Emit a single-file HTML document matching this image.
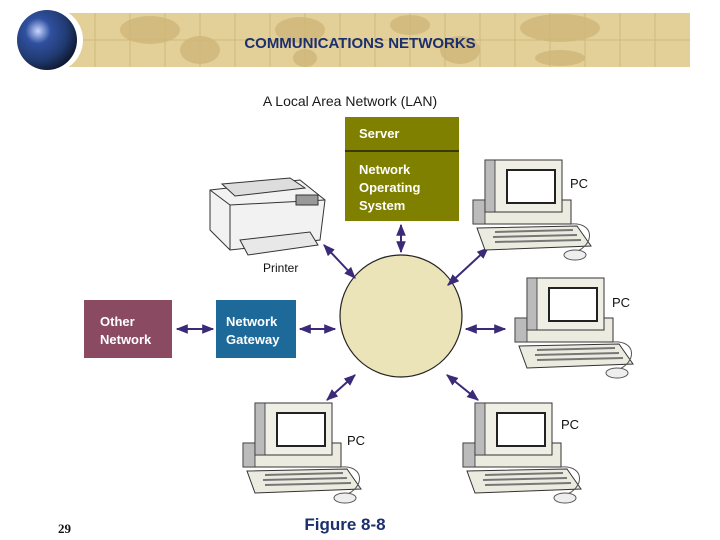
<!DOCTYPE html>
<html><head><meta charset="utf-8"><style>
body{margin:0;width:720px;height:540px;background:#fff;overflow:hidden}
svg{display:block}
</style></head><body>
<svg width="720" height="540" viewBox="0 0 720 540" xmlns="http://www.w3.org/2000/svg" font-family="Liberation Sans, sans-serif">
<defs>
<radialGradient id="gl" cx="0.35" cy="0.35" r="0.7">
<stop offset="0" stop-color="#c8d8ff"/><stop offset="0.3" stop-color="#3050a0"/><stop offset="0.7" stop-color="#203a70"/><stop offset="1" stop-color="#101830"/></radialGradient>
<marker id="ah" viewBox="0 0 10 10" refX="9" refY="5" markerWidth="6" markerHeight="6" orient="auto-start-reverse"><path d="M0,1 L10,5 L0,9 z" fill="#3b2a78"/></marker>
<g id="pc">
<rect x="-12" y="40" width="98" height="24" fill="#ecebe0" stroke="#333" stroke-width="1"/>
<rect x="-12" y="40" width="12" height="24" fill="#bbb" stroke="#333" stroke-width="0.8"/>
<rect x="0" y="0" width="77" height="52" fill="#f0efe6" stroke="#333" stroke-width="1"/>
<rect x="0" y="0" width="10" height="52" fill="#bbb" stroke="#333" stroke-width="0.8"/>
<rect x="22" y="10" width="48" height="33" fill="#fff" stroke="#222" stroke-width="2"/>
<path d="M-8,68 L92,66 L106,86 L0,90 Z" fill="#ecebe0" stroke="#333" stroke-width="1"/>
<path d="M10,72 L88,70 M8,77 L92,75 M10,82 L96,80" stroke="#777" stroke-width="2"/>
<path d="M86,64 C110,62 110,85 90,92" fill="none" stroke="#555" stroke-width="1"/>
<ellipse cx="90" cy="95" rx="11" ry="5" fill="#eee" stroke="#555"/>
</g>
</defs>
<!-- banner -->
<rect x="62" y="13" width="628" height="54" fill="#e3cf98"/>
<g stroke="#cfb87c" stroke-width="1">
<path d="M95,13V67M130,13V67M165,13V67M200,13V67M235,13V67M270,13V67M305,13V67M340,13V67M375,13V67M410,13V67M445,13V67M480,13V67M515,13V67M550,13V67M585,13V67M620,13V67M655,13V67M62,40H690"/>
</g>
<g fill="#d0b77a" opacity="0.8">
<ellipse cx="150" cy="30" rx="30" ry="14"/><ellipse cx="200" cy="50" rx="20" ry="14"/>
<ellipse cx="300" cy="30" rx="25" ry="13"/><ellipse cx="305" cy="58" rx="12" ry="9"/>
<ellipse cx="410" cy="25" rx="20" ry="10"/><ellipse cx="460" cy="50" rx="20" ry="14"/>
<ellipse cx="560" cy="28" rx="40" ry="14"/><ellipse cx="560" cy="58" rx="25" ry="8"/>
</g>
<ellipse cx="49" cy="40" rx="34" ry="33" fill="#fff"/>
<circle cx="47" cy="40" r="30" fill="url(#gl)"/>
<text x="360" y="48" text-anchor="middle" font-size="15" font-weight="bold" fill="#1c2f6e">COMMUNICATIONS NETWORKS</text>
<text x="350" y="106" text-anchor="middle" font-size="14" fill="#1a1a1a">A Local Area Network (LAN)</text>
<!-- server -->
<rect x="345" y="117" width="114" height="104" fill="#7f7f00"/>
<line x1="345" y1="151" x2="459" y2="151" stroke="#3a3a00" stroke-width="2"/>
<g fill="#fff" font-size="13" font-weight="bold">
<text x="359" y="138">Server</text>
<text x="359" y="174">Network</text><text x="359" y="192">Operating</text><text x="359" y="210">System</text>
</g>
<!-- gateway / other -->
<rect x="216" y="300" width="80" height="58" fill="#1d6a9a"/>
<text x="226" y="326" fill="#fff" font-size="13" font-weight="bold">Network</text>
<text x="226" y="344" fill="#fff" font-size="13" font-weight="bold">Gateway</text>
<rect x="84" y="300" width="88" height="58" fill="#8a4b62"/>
<text x="100" y="326" fill="#fff" font-size="13" font-weight="bold">Other</text>
<text x="100" y="344" fill="#fff" font-size="13" font-weight="bold">Network</text>
<!-- circle -->
<circle cx="401" cy="316" r="61" fill="#ebe4b8" stroke="#222" stroke-width="1.2"/>
<!-- arrows -->
<g stroke="#3b2a78" stroke-width="2" marker-start="url(#ah)" marker-end="url(#ah)">
<line x1="401" y1="225" x2="401" y2="252"/>
<line x1="324" y1="245" x2="355" y2="278"/>
<line x1="488" y1="248" x2="448" y2="285"/>
<line x1="300" y1="329" x2="335" y2="329"/>
<line x1="177" y1="329" x2="213" y2="329"/>
<line x1="466" y1="329" x2="505" y2="329"/>
<line x1="327" y1="400" x2="355" y2="375"/>
<line x1="478" y1="400" x2="447" y2="375"/>
</g>
<!-- printer -->
<g stroke="#333" stroke-width="1">
<path d="M210,190 L300,180 L325,200 L320,240 L230,250 L210,230 Z" fill="#f2f2f2"/>
<path d="M210,190 L230,205 L325,200" fill="none"/>
<path d="M230,205 L230,250" fill="none"/>
<path d="M222,184 L290,178 L305,188 L235,196 Z" fill="#ddd"/>
<path d="M240,240 L310,232 L318,245 L248,255 Z" fill="#e8e8e8"/>
<rect x="296" y="195" width="22" height="10" fill="#999"/>
</g>
<text x="263" y="272" font-size="12" fill="#111">Printer</text>
<!-- PCs -->
<use href="#pc" x="485" y="160"/>
<use href="#pc" x="527" y="278"/>
<use href="#pc" x="255" y="403"/>
<use href="#pc" x="475" y="403"/>
<g font-size="13" fill="#111">
<text x="570" y="188">PC</text>
<text x="612" y="307">PC</text>
<text x="347" y="445">PC</text>
<text x="561" y="429">PC</text>
</g>
<text x="58" y="533" font-family="Liberation Serif, serif" font-size="13" font-weight="bold" fill="#111">29</text>
<text x="345" y="530" text-anchor="middle" font-size="17" font-weight="bold" fill="#1c2f6e">Figure 8-8</text>
</svg>
</body></html>
